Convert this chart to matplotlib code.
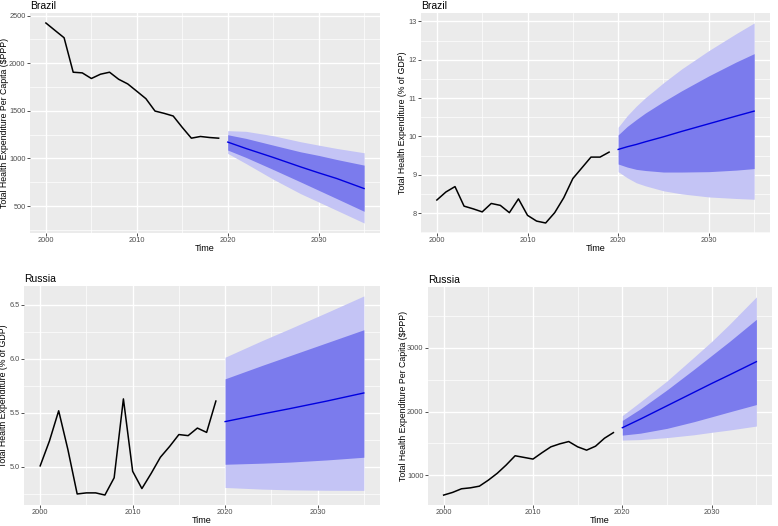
import numpy as np
import matplotlib
matplotlib.use("Agg")
import matplotlib.pyplot as plt

plt.rcParams['font.family'] = ['Liberation Sans', 'DejaVu Sans']

# observed series, 2000-2019
years = list(range(2000, 2020))
bra_pc = [2423, 2345, 2268, 1906, 1899, 1840, 1885, 1906, 1832, 1783,
          1706, 1628, 1498, 1474, 1446, 1326, 1213, 1231, 1220, 1213]
bra_gdp = [8.34, 8.55, 8.69, 8.18, 8.11, 8.03, 8.25, 8.20, 8.01, 8.37,
           7.94, 7.79, 7.74, 8.01, 8.40, 8.90, 9.18, 9.46, 9.46, 9.59]
rus_gdp = [5.01, 5.24, 5.52, 5.16, 4.75, 4.76, 4.76, 4.74, 4.90, 5.63,
           4.96, 4.80, 4.94, 5.09, 5.19, 5.30, 5.29, 5.36, 5.32, 5.61]
rus_pc = [689, 731, 788, 803, 829, 923, 1031, 1161, 1306, 1280,
          1254, 1353, 1446, 1493, 1529, 1446, 1394, 1456, 1581, 1669]

# forecasts (mean, 80% and 95% intervals)
bra_pc_fy = [2020, 2022, 2025, 2028, 2030, 2032, 2035]
bra_pc_mean = [1172, 1105, 1011, 912, 849, 789, 684]
bra_pc_hi80 = [1249, 1211, 1140, 1070, 1032, 989, 930]
bra_pc_lo80 = [1088, 1011, 884, 754, 666, 578, 445]
bra_pc_hi95 = [1292, 1285, 1239, 1176, 1140, 1105, 1060]
bra_pc_lo95 = [1053, 947, 782, 631, 543, 455, 322]

bra_gdp_fy = [2020, 2021, 2022, 2023, 2025, 2027, 2030, 2033, 2035]
bra_gdp_mean = [9.66, 9.73, 9.79, 9.86, 9.99, 10.13, 10.33, 10.53, 10.66]
bra_gdp_hi80 = [10.04, 10.26, 10.44, 10.61, 10.91, 11.19, 11.58, 11.94, 12.16]
bra_gdp_lo80 = [9.28, 9.20, 9.14, 9.11, 9.07, 9.07, 9.08, 9.12, 9.16]
bra_gdp_hi95 = [10.24, 10.54, 10.79, 11.01, 11.40, 11.76, 12.24, 12.68, 12.96]
bra_gdp_lo95 = [9.08, 8.92, 8.79, 8.71, 8.58, 8.50, 8.42, 8.38, 8.36]

rus_gdp_fy = [2020, 2024, 2027, 2031, 2035]
rus_gdp_mean = [5.42, 5.49, 5.54, 5.61, 5.685]
rus_gdp_hi80 = [5.816, 5.94, 6.03, 6.15, 6.27]
rus_gdp_lo80 = [5.025, 5.035, 5.045, 5.065, 5.09]
rus_gdp_hi95 = [6.016, 6.17, 6.28, 6.43, 6.583]
rus_gdp_lo95 = [4.81, 4.795, 4.788, 4.784, 4.783]

rus_pc_fy = [2020, 2022, 2025, 2028, 2030, 2032, 2035]
rus_pc_mean = [1746, 1880, 2090, 2300, 2440, 2575, 2782]
rus_pc_hi80 = [1861, 2040, 2340, 2660, 2880, 3100, 3446]
rus_pc_lo80 = [1630, 1660, 1736, 1840, 1917, 1995, 2109]
rus_pc_hi95 = [1936, 2150, 2480, 2850, 3100, 3370, 3798]
rus_pc_lo95 = [1552, 1560, 1591, 1635, 1674, 1710, 1772]

DARK = "#7b7bed"
LIGHT = "#c4c4f5"
W, H = 778.0, 526.0


def panel(box, ylab_x, title, ylabel, obs, fy, mean, lo80, hi80, lo95, hi95,
          yticks, fmt):
    l, r, t, b = box
    ax = plt.gcf().add_axes([l / W, 1 - b / H, (r - l) / W, (b - t) / H])
    ax.set_facecolor("#ebebeb")
    ax.fill_between(fy, lo95, hi95, color=LIGHT, lw=0, zorder=2)
    ax.fill_between(fy, lo80, hi80, color=DARK, lw=0, zorder=3)
    ax.plot(fy, mean, color="#0000e0", lw=1.0, zorder=4)
    ax.plot(years, obs, color="black", lw=1.1, zorder=4)

    # ggplot style limits
    lo = min(min(obs), min(lo95))
    hi = max(max(obs), max(hi95))
    pad = (hi - lo) * 0.05

    xt = [2000, 2010, 2020, 2030]
    ax.set_xticks(xt)
    ax.set_xticklabels([str(x) for x in xt])
    ax.set_xticks([2005, 2015, 2025, 2035], minor=True)
    ax.set_yticks(yticks)
    ax.set_yticklabels([fmt % v for v in yticks])
    step = yticks[1] - yticks[0]
    ymin = np.arange(yticks[0] - step / 2, yticks[-1] + step, step)
    ax.set_yticks(ymin, minor=True)
    ax.set_ylim(lo - pad, hi + pad)
    ax.set_xlim(2000 - 1.75, 2035 + 1.75)

    ax.grid(which="major", color="white", lw=1.0, zorder=1)
    ax.grid(which="minor", color="white", lw=0.5, zorder=1)
    ax.set_axisbelow(True)
    for s in ax.spines.values():
        s.set_visible(False)
    ax.tick_params(which="major", length=2, width=0.6, color="#333333",
                   labelsize=5.3, labelcolor="#4d4d4d", pad=1.2)
    ax.tick_params(which="minor", length=0)
    ax.set_xlabel("Time", fontsize=6.5, labelpad=0)
    ax.set_ylabel(ylabel, fontsize=6.3)
    # label anchor is its right edge
    ax.yaxis.set_label_coords((ylab_x - l) / (r - l), 0.5)
    ax.set_title(title, loc="left", fontsize=7.5, pad=3)
    return ax


fig = plt.figure(figsize=(W / 100, H / 100), dpi=100)

panel((30, 380, 13, 233), 9.5, "Brazil", "Total Health Expenditure Per Capita (\\$PPP)",
      bra_pc, bra_pc_fy, bra_pc_mean, bra_pc_lo80, bra_pc_hi80,
      bra_pc_lo95, bra_pc_hi95, [500, 1000, 1500, 2000, 2500], "%d")
panel((421, 770, 13, 233), 407.5, "Brazil", "Total Health Expenditure (% of GDP)",
      bra_gdp, bra_gdp_fy, bra_gdp_mean, bra_gdp_lo80, bra_gdp_hi80,
      bra_gdp_lo95, bra_gdp_hi95, [8, 9, 10, 11, 12, 13], "%d")
panel((24, 380, 286, 505), 8.5, "Russia", "Total Health Expenditure (% of GDP)",
      rus_gdp, rus_gdp_fy, rus_gdp_mean, rus_gdp_lo80, rus_gdp_hi80,
      rus_gdp_lo95, rus_gdp_hi95, [5.0, 5.5, 6.0, 6.5], "%.1f")
panel((428, 772, 287, 505), 408.5, "Russia", "Total Health Expenditure Per Capita (\\$PPP)",
      rus_pc, rus_pc_fy, rus_pc_mean, rus_pc_lo80, rus_pc_hi80,
      rus_pc_lo95, rus_pc_hi95, [1000, 2000, 3000], "%d")

fig.savefig("out.png", dpi=100)
